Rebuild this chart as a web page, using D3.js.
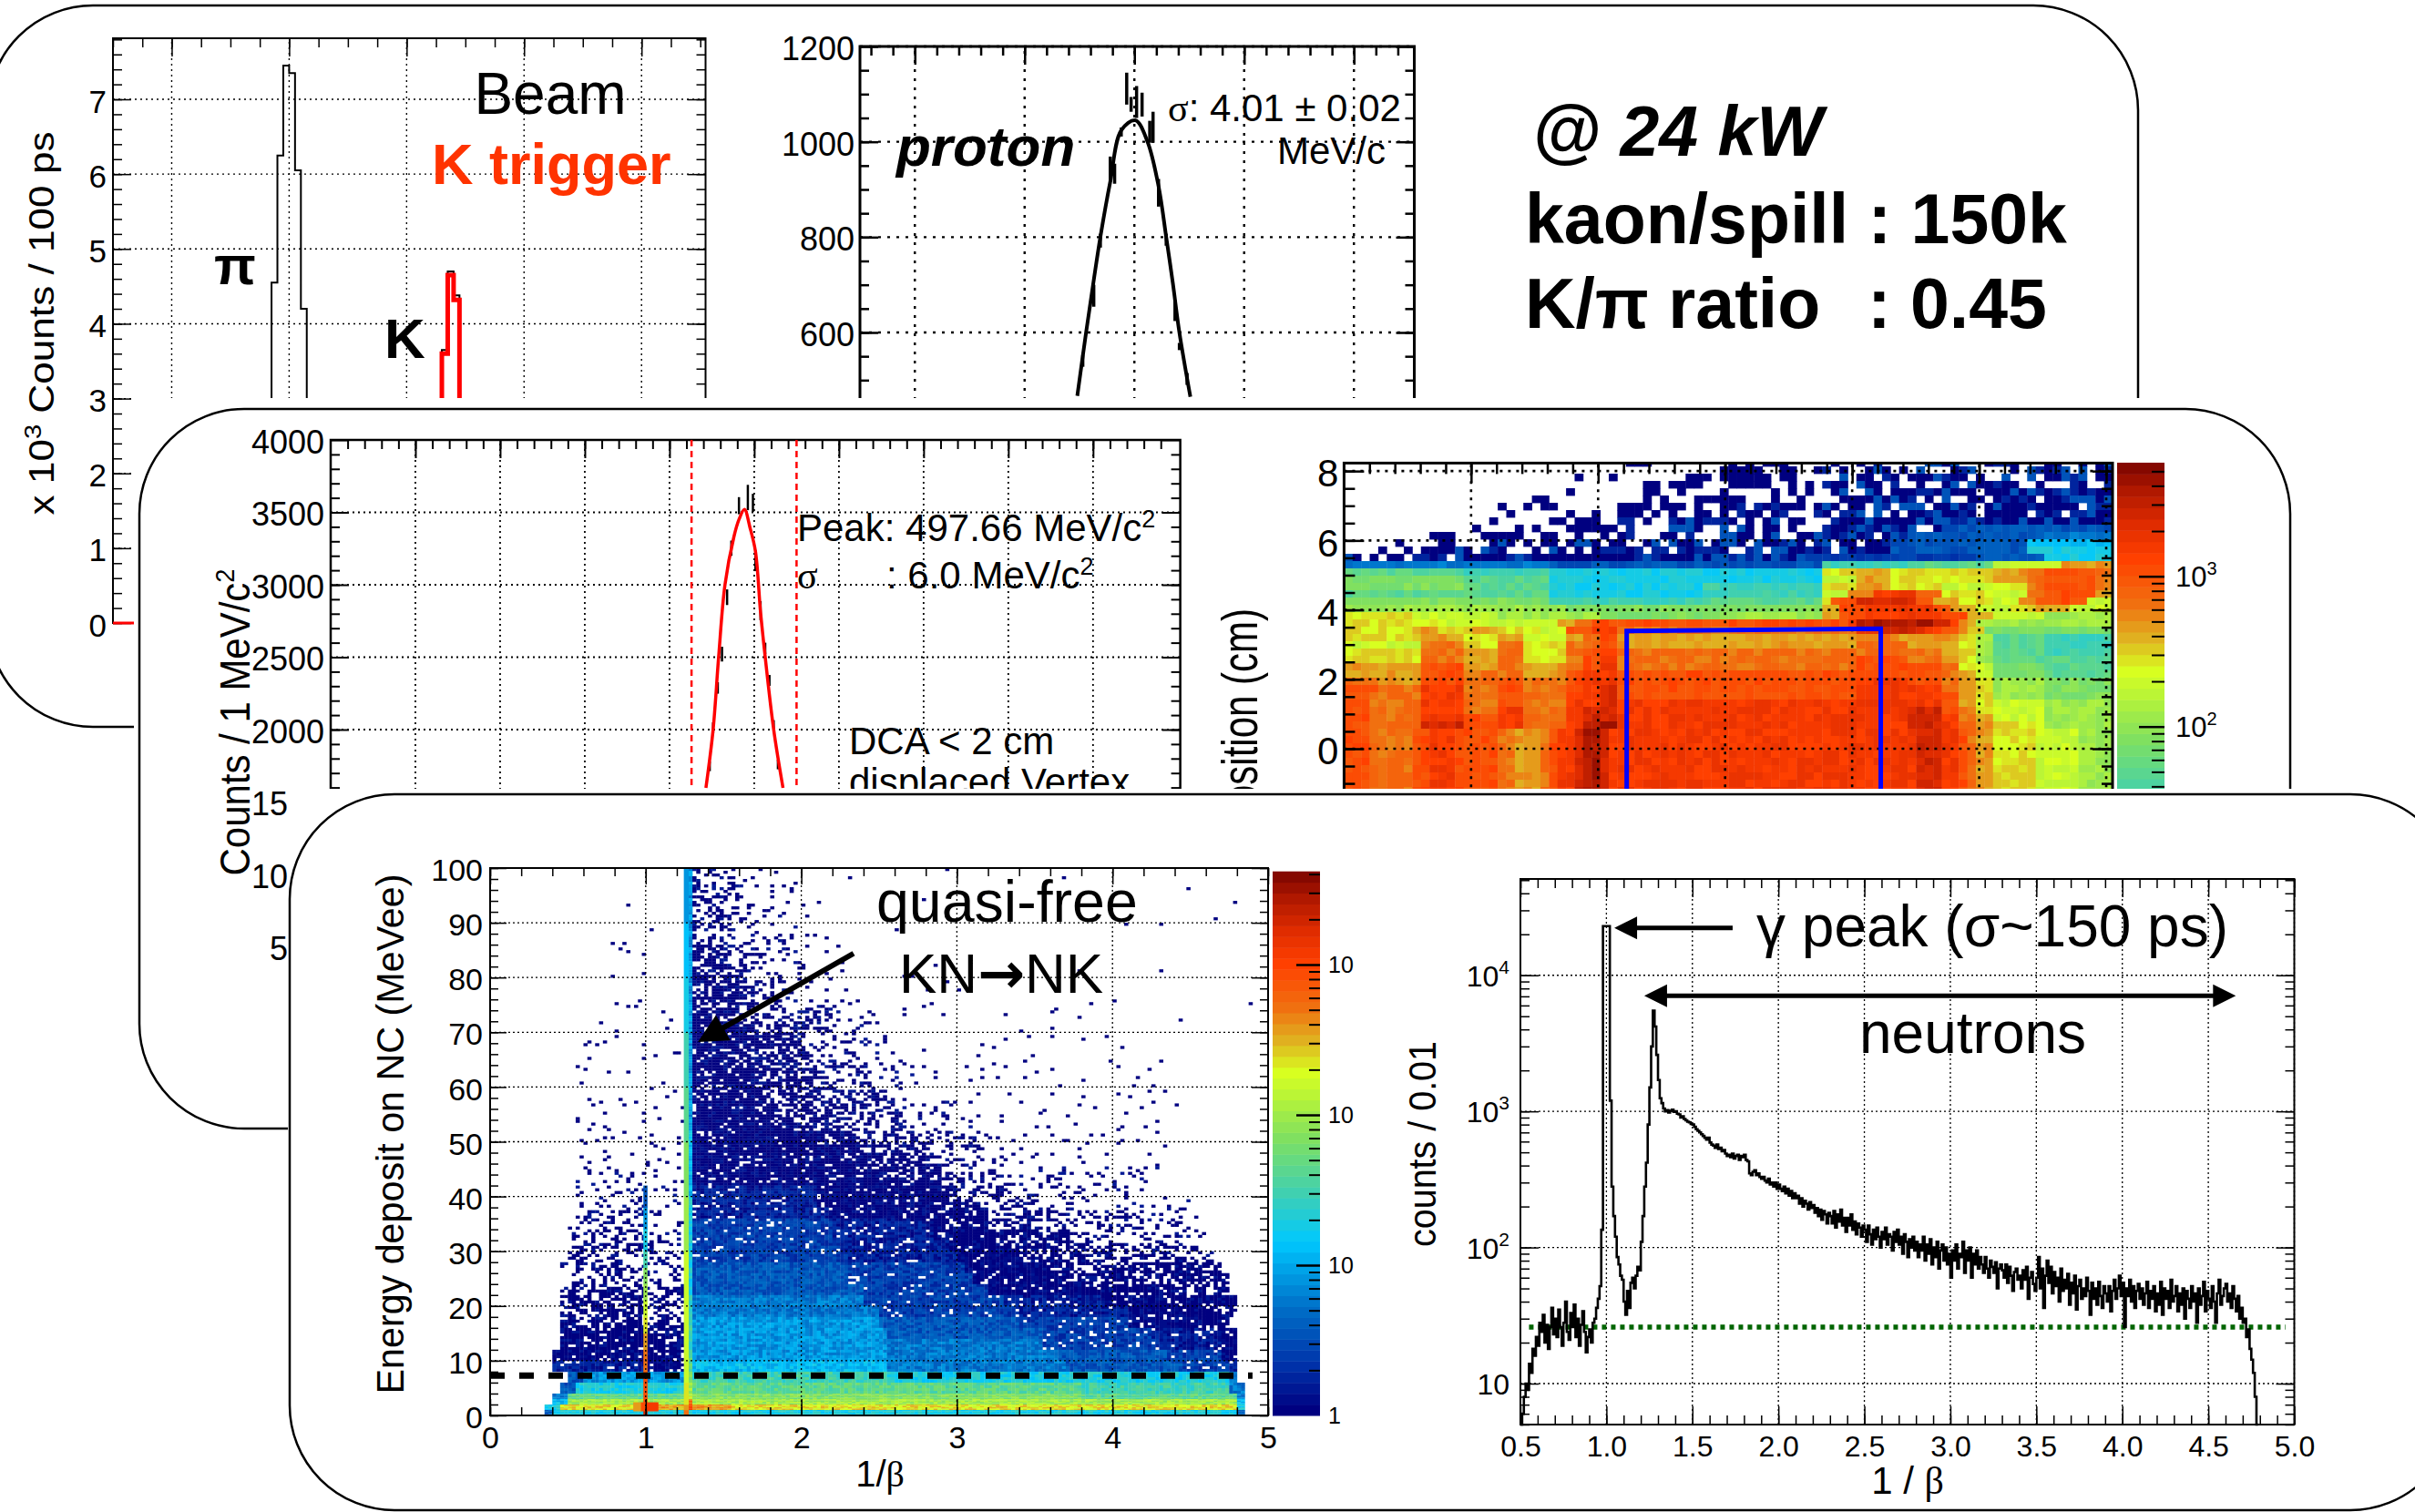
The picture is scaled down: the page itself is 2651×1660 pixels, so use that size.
<!DOCTYPE html>
<html>
<head>
<meta charset="utf-8">
<script src="https://cdn.jsdelivr.net/npm/d3@7"></script>
<style>
	html, body { margin: 0; background: #fff; }
	svg { display: block; font-family: "Liberation Sans", Arial, sans-serif; }
</style>
</head>
<body>
<div id="chart"></div>
<script>
	// palette stops, same rainbow for both colour maps
	var paletteStops = [0, 0.08, 0.19, 0.31, 0.4, 0.5, 0.62, 0.68, 0.74, 0.82, 0.88, 0.94, 1];
	var paletteColors = ["#000080", "#0030a8", "#0070c8", "#00c8ff", "#40d0b0", "#80e060", "#d8ff20", "#e0b020", "#f07010", "#ff4000", "#e02c00", "#b01800", "#700000"];

	// beam TOF, 100 ps bins
	var piBins = [23.6, 23.7, 23.8, 23.9, 24.0, 24.1, 24.2, 24.3, 24.4];
	var piCounts = [2.4, 4.55, 6.25, 7.45, 7.35, 6.05, 4.2, 2.5];
	var kBins = [26.5, 26.6, 26.7, 26.8, 26.9, 27.0];
	var kCounts = [2.0, 3.65, 4.7, 4.38, 2.0];
	var kTrigCounts = [2.0, 3.6, 4.65, 4.32, 2.0];

	// proton peak
	var protonFitX = [934.8, 935.6, 936.3, 936.9, 937.8, 938.8, 940.1, 941.2, 942.2, 942.9, 943.5, 944.1, 945.1];
	var protonFitY = [467, 600, 710, 800, 916, 1024, 1045, 1000, 907, 800, 704, 600, 465];
	var protonX = [935.3, 936.3, 936.9, 937.8, 938.2, 938.8, 939.3, 939.7, 940.2, 940.7, 941.4, 941.7, 942.2, 942.9, 943.7, 944.1, 944.8];
	var protonLow = [528, 654, 778, 916, 912, 1011, 1078, 1063, 1050, 1053, 998, 998, 864, 782, 624, 563, 490];
	var protonHigh = [553, 700, 807, 969, 954, 1030, 1145, 1094, 1117, 1103, 1044, 1063, 922, 807, 668, 578, 515];

	// K0 peak
	var kaonFitX = [488.6, 490.3, 491.6, 493.1, 495.2, 496.4, 497.7, 499, 500.3, 501.5, 502.6, 504.6, 506.8];
	var kaonFitY = [1597, 2000, 2500, 3000, 3330, 3450, 3520, 3395, 3230, 2810, 2500, 2000, 1597];
	var kaonX = [489.5, 490.3, 491.4, 492.4, 493.6, 494.6, 496.4, 498.5, 499.7, 500.3, 501.5, 502.6, 503.6, 504.6, 505.6];
	var kaonLow = [1713, 1975, 2248, 2470, 2860, 3200, 3487, 3515, 3503, 3094, 2755, 2522, 2302, 2000, 1726];
	var kaonHigh = [1780, 2050, 2327, 2572, 2968, 3305, 3605, 3690, 3628, 3240, 2887, 2600, 2377, 2065, 1792];
	var kaonCuts = [485.2, 510];

	// target image, rows top to bottom, run-length coded colour levels
	var bottomRow = "3Q5P1Q1Q3R1Q4Q2P1O2O1P1Q2R1S2T1S2R29R3R2R3S2R1Q1P2O2N3N5M4L";
	var targetRows = [
		"33.7v12w8w10a10b10c", "28.6u12v10w10a12b12c", "26.8u10v12w10a12b12c", "26.8u10v12w10a10c14d",
		"24.8u10w12w12a10c14d", "18.6u10v12w10a14c20d", "15.7u10v12w12a14c20d", "15.8v10w12w11a14c20d",
		"14.8v10w12a12b14d20e", "13.9v10w12a12b14d20D", "9.11w10w10a12b14d16D8E", "5.11w10a10a14b14c16D10G",
		"2.10w10a12b14c16d16D10H", "12c12d14e16e20C8D8H", "24E16D16D10I10J8M6O",
		"14J10I10H10H12H4N4O12N4O2P6Q2P", "14K10J10H10H12H4M4O12N4O2P6Q2P", "14K10J8H10H14I4N4O6N6M4N2P6Q2P",
		"14J10J8H10H14I3M3P5R3P5N5M2P6Q2O", "14K10K8I10I14J1N3Q7S2Q3O4N3M2P6Q3M", "16L10L10K10K10K2O3Q8R2Q3O4M3N4O5M",
		"8N10M12L14K12L2O3Q9R3Q3O6M8L", "12N13M2O2P30Q1R9T2S1R1P1O16L", "8N3O4N3O5N3M3Q3R28P3R5S2R2Q1P2N15K",
		"9N5O4N3O5M2O2P2Q28O5P5O2O2N2L6J8I", "9M5P4N3P5N2P2P2Q28O6P4O2O2N2L6J8I", "9N5P4O3P5N2P2Q2R28P6P4P2O2N2L6J8I",
		"9N5P4O3P5N2P2Q2R28P6Q4P2O2N2L6J8J", "9O5Q4O3P5O2P2Q2R28P6Q4Q2P2N2M6K8J", "9O5Q4P3P5O2Q2R2R28Q6Q4Q2P2O2M6K8J",
		"4P5O5Q4P3Q5P2Q2R2R28Q6R4Q2P2O2N6L8K", "4Q5P5R4P3Q5P2Q2R2S28Q6R4R2P2O2N6L8K", "3Q6P5R4P3Q5P2R2R2S28Q6R4R2Q2O2N6L8K",
		"3Q6P5R4P3Q5P2R2R2S28R6R4R2Q2O2N6M8L", "3Q6P5R4P3R5P2R2S2S28R6R4S2Q2P2N6M8L", "3Q6P5R4Q3R5P2R2S2S28R6R4S2R2P2O6M8L",
		"3Q6P5S4Q3R5P2R2S2T28R6R4S2R2P2O6N8L",
		bottomRow, bottomRow, bottomRow, bottomRow, bottomRow, bottomRow, bottomRow, bottomRow, bottomRow
	];
	var targetBox = [[-1.55, -3], [-1.55, 3.39], [2.45, 3.46], [2.45, -3]];

	// energy vs 1/beta, rows top to bottom, 0.05 wide columns
	var energyEdges = d3.range(100, 3, -2).concat([3, 2, 1, 0]);
	var energyRows = [
		"18.2v5.1F3c4b3a4w60t", "18.2v5.1F4c4b4a2w60t", "16.4u5.1F4c4b4a2w60t", "15.5u5t1F4c4b4a3w59t",
		"15.5v5t1F4c4b5a3v58t", "14.6u5t1F4c5b5a3v57t", "14.6v5t1F5c5b5a3w56t", "14.6v5t1F5d5b5a4w55t",
		"14.6v5t1F5d5c5a5w54t", "14.6v5t1F5d5c6a4w14u40t", "13.7v5t1F6d6c5a4w14u39t", "13.7u5t1F6d6c6a4w14u38t",
		"12.8v5t1F6d6c6b5w15u36t", "12.8v5u1F6d7c6b5a40u10.", "12.8v5u1F7e7d5b5a37u13.", "12.8v5u1F7e7d6b5a36u13.",
		"12.8v5u1F7e8d6b5a34u14.", "12.8v5v1F8e7d7b6a33u13.", "11.9v5v1F8e8d7c6a31v14.", "11.9v5v1F8e8d7c7a30v14.",
		"11.9v5v1F9e8d8c8w31v10.", "11.9w5v1F9e9d8c8a29v11.", "11.9v5v1F10e9d8c8a27v12.", "11.9w5v1F10A10d8c8a27v11.",
		"11.9w5w1G11A10e8c8b24w13.", "11.9w5w1G12A10e8d8b23w13.", "11.9w5w1G13A10e8d8b22w13.", "11.9a5w1G14A10e8d8b20a14.",
		"11.9a5w1G15A10A8d8c18a15.", "11.9a5a1G16B10A8e8c17a15.", "11.9b5a1H16B10A10e8c21a9.", "11.9b5a1H18B12A8e8c19b9.",
		"10.10b5a1H18C12B8e9c17b10.", "10.10c5b1H18C13B8e10d17b8.", "10.10c5b1H19C14B8e10d14c9.", "10.10c5b1H20C14B9A10d14c7.",
		"9.11c5b1H20D15C10A10d13d6.", "9.11c5b1H20D16C11A14d8d5.", "9.11d5c1H22D16C12A12e7d5.", "9.11d5c1I22E18C13B8A9e4.",
		"9.11d5c1I24E18C14B9A3e2d4.", "9.11d5d1I24F18D14C9A4e5.", "9.11e5d1I25F20D14C8B3A4.", "9.11e5e1I25F20E15C8B2A4.",
		"8.12A5e1J25F22E14D7C2A4.", "8.12B5A1J25G23E15D6C1B4.", "10.2D8F5F1K25I25H19H1E4.", "9.2D9H5H1L25J25J19I2E3.",
		"8.2E10J5J1M25K25K20J1E3.", "8.2G10L5L1P25L25L20L1G3.", "7.2H11N5O1Q5O20N25N20N1H3.", "7.1D12H5H1I25H25H20H1D3."
	];
	var gammaEdges = [0, 1, 2, 4, 8, 12, 15, 18, 21, 24, 27, 30, 34, 38, 42];
	var gammaLevels = ["S", "R", "Q", "Q", "P", "O", "N", "M", "L", "K", "I", "H", "F", "D"];
	var neutronEdges = [0, 1, 2, 6, 10, 20, 30, 40, 50, 60, 70, 80, 90, 100];
	var neutronLevels = ["P", "O", "N", "M", "M", "M", "L", "K", "J", "I", "H", "G", "F"];
	var blobX = [0.92, 0.97, 1.0, 1.08];
	var blobLevels = ["O", "Q", "R"];
	var cutEnergy = 7.3;

	// counts / 0.01 from 1/beta = 0.50 to 4.79
	var betaCounts = [
		5, 6, 8, 10, 9, 14, 12, 18, 16, 22, 19, 28, 24, 32, 20, 27, 18, 26, 36, 23,
		30, 22, 35, 26, 19, 28, 40, 24, 21, 33, 26, 38, 22, 30, 19, 27, 34, 24, 17, 22,
		25, 20, 28, 30, 36, 42, 52, 135, 23000, 23000, 23000, 23000, 1200, 280, 170, 120, 85, 75, 62, 58,
		40, 32, 48, 36, 55, 60, 50, 62, 72, 68, 110, 170, 280, 420, 800, 1500, 3000, 5500, 4200, 2600,
		1700, 1250, 1150, 1050, 1000, 1020, 980, 1010, 1030, 990, 1000, 960, 950, 900, 920, 880, 860, 840, 830, 810,
		800, 770, 740, 720, 700, 680, 660, 640, 620, 640, 590, 570, 560, 540, 570, 530, 540, 510, 520, 490,
		470, 480, 460, 490, 450, 470, 480, 440, 470, 460, 480, 440, 430, 350, 340, 360, 370, 340, 350, 330,
		320, 330, 310, 300, 320, 290, 300, 280, 300, 270, 290, 270, 260, 280, 250, 270, 240, 260, 230, 250,
		230, 240, 210, 230, 200, 220, 210, 190, 215, 195, 205, 180, 195, 170, 190, 160, 185, 175, 150, 180,
		170, 150, 185, 140, 175, 155, 190, 145, 165, 130, 165, 145, 175, 135, 155, 125, 150, 140, 120, 145,
		135, 110, 145, 125, 105, 135, 115, 140, 120, 100, 130, 115, 140, 105, 125, 120, 95, 130, 110, 135,
		105, 120, 90, 125, 110, 85, 115, 100, 120, 95, 110, 85, 105, 95, 120, 80, 105, 90, 115, 75,
		100, 85, 110, 70, 95, 105, 80, 100, 75, 90, 60, 95, 80, 105, 70, 90, 85, 110, 65, 95,
		80, 100, 60, 90, 75, 95, 70, 85, 75, 65, 85, 70, 60, 80, 72, 65, 78, 50, 70, 75,
		68, 60, 75, 55, 72, 62, 48, 66, 70, 58, 62, 50, 68, 58, 72, 42, 60, 66, 54, 48,
		60, 85, 50, 70, 36, 62, 80, 55, 72, 46, 66, 52, 60, 40, 70, 48, 58, 50, 64, 38,
		55, 46, 62, 35, 52, 58, 42, 50, 44, 60, 48, 32, 55, 42, 50, 38, 56, 44, 36, 52,
		46, 40, 52, 34, 48, 58, 42, 50, 62, 44, 55, 26, 50, 44, 58, 40, 52, 36, 48, 54,
		42, 50, 38, 46, 56, 36, 48, 42, 52, 34, 46, 38, 56, 32, 50, 42, 48, 36, 58, 40,
		44, 52, 34, 46, 38, 50, 30, 48, 42, 36, 52, 40, 46, 28, 50, 38, 44, 56, 34, 48,
		42, 36, 52, 40, 28, 46, 58, 38, 44, 50, 54, 40, 46, 36, 52, 42, 34, 44, 30, 36,
		28, 30, 22, 25, 18, 15, 12, 8, 5, 5
	];
	var betaThreshold = 26;

	var svg = d3.select("#chart").append("svg").attr("width", 2651).attr("height", 1660);

	var palette = d3.scaleLinear().domain(paletteStops).range(paletteColors);
	function paletteColor(t) { return palette(Math.max(0, Math.min(0.999, Math.floor(t * 50) / 50))); }
	function levelValue(c) { return (c.charCodeAt(0) - 65) * 0.05; }

	function decode(row) {
		var out = [];
		row.replace(/(\d+)([A-Za-z.])/g, function (m, n, c) {
			for (var i = 0; i < +n; i++) out.push(c);
		});
		return out;
	}
	// fixed scatter pattern for the grain of the typed density levels
	function grain(a, b, c) {
		var h = Math.imul(a + 1, 73856093) ^ Math.imul(b + 1, 19349663) ^ Math.imul(c + 1, 83492791);
		h = Math.imul(h ^ (h >>> 13), 1274126177);
		return ((h ^ (h >>> 16)) >>> 0) % 97;
	}
	var thinning = { t: 3, u: 12, v: 24, w: 48 };
	var binsPerCell = { a: 1, b: 2, c: 3, d: 5, e: 7 };
	var jitter = [-0.04, 0.02, 0.04, -0.02, 0, 0.03, -0.03, 0.01];

	function frame(g, x, y, o) {
		var xa = x.range()[0], xb = x.range()[1], ya = y.range()[0], yb = y.range()[1];
		var gridW = o.gridWidth || 1.4, dash = o.gridDash || "2,4";
		var grid = g.append("g").attr("stroke", "#000").attr("stroke-width", gridW).attr("stroke-dasharray", dash);
		grid.selectAll(".gx").data(o.xMajor).join("line").attr("class", "gx")
			.attr("x1", x).attr("x2", x).attr("y1", ya).attr("y2", yb);
		grid.selectAll(".gy").data(o.yMajor).join("line").attr("class", "gy")
			.attr("x1", xa).attr("x2", xb).attr("y1", y).attr("y2", y);

		var tickW = o.tickWidth || 1.5, minorLen = o.minorLen || 10, majorLen = o.majorLen || 20;
		function side(fn, scale, vals, len, tx, ty) {
			var a = g.append("g").attr("transform", "translate(" + tx + "," + ty + ")")
				.call(fn(scale).tickValues(vals).tickSize(-len).tickSizeOuter(0).tickFormat(""));
			a.select(".domain").remove();
			a.selectAll("line").attr("stroke-width", tickW);
		}
		[[o.yMinor, minorLen], [o.yMajor, majorLen]].forEach(function (d) {
			side(d3.axisLeft, y, d[0], d[1], xa, 0);
			side(d3.axisRight, y, d[0], d[1], xb, 0);
		});
		[[o.xMinor, minorLen], [o.xMajor, majorLen]].forEach(function (d) {
			side(d3.axisTop, x, d[0], d[1], 0, yb);
			if (o.xLabels) side(d3.axisBottom, x, d[0], d[1], 0, ya);
		});

		var labelSize = o.labelSize || 35;
		var ly = g.append("g").attr("transform", "translate(" + xa + ",0)")
			.call(d3.axisLeft(y).tickValues(o.yLabels).tickSize(0).tickPadding(o.yPad || 7).tickFormat(o.yFormat || d3.format("d")));
		ly.select(".domain").remove();
		ly.selectAll("text").attr("font-size", labelSize).attr("font-family", "Liberation Sans").attr("fill", "#000").attr("dy", "0.4em");
		if (o.xLabels) {
			var lx = g.append("g").attr("transform", "translate(0," + ya + ")")
				.call(d3.axisBottom(x).tickValues(o.xLabels).tickSize(0).tickPadding(o.xPad || 8).tickFormat(o.xFormat || d3.format("d")));
			lx.select(".domain").remove();
			lx.selectAll("text").attr("font-size", labelSize).attr("font-family", "Liberation Sans").attr("fill", "#000");
		}
		g.append("rect").attr("x", xa).attr("y", yb).attr("width", xb - xa).attr("height", ya - yb)
			.attr("fill", "none").attr("stroke", "#000").attr("stroke-width", o.frameWidth || 2);
	}

	function label(g, x, y, str, size, o) {
		o = o || {};
		return g.append("text").attr("x", x).attr("y", y).attr("font-size", size)
			.attr("font-weight", o.weight || null).attr("font-style", o.style || null)
			.attr("text-anchor", o.anchor || "start").attr("fill", o.fill || "#000").text(str);
	}
	function vlabel(g, x, y, size, len) {
		return g.append("text").attr("transform", "translate(" + x + "," + y + ") rotate(-90)")
			.attr("font-size", size).attr("text-anchor", "middle").attr("textLength", len).attr("lengthAdjust", "spacingAndGlyphs");
	}
	function arrowHead(g, x1, y1, x2, y2, size) {
		var a = Math.atan2(y2 - y1, x2 - x1), s = size, w = size * 0.5;
		var bx = x2 - s * Math.cos(a), by = y2 - s * Math.sin(a);
		g.append("path").attr("fill", "#000").attr("d", d3.line()([[x2, y2],
			[bx - w * Math.sin(a), by + w * Math.cos(a)], [bx + w * Math.sin(a), by - w * Math.cos(a)]]) + "Z");
	}
	function arrowLine(g, x1, y1, x2, y2, width) {
		g.append("line").attr("x1", x1).attr("y1", y1).attr("x2", x2).attr("y2", y2)
			.attr("stroke", "#000").attr("stroke-width", width);
	}
	function histPath(bins, counts, y, x) {
		return d3.line().curve(d3.curveStepAfter)
			.x(function (d) { return x(d[0]); }).y(function (d) { return y(d[1]); })(
				bins.map(function (b, i) { return [b, i < counts.length ? counts[i] : counts[counts.length - 1]]; }));
	}
	function colorBar(g, y, maxDecade, xa, xb, longLen, shortLen) {
		var steps = d3.range(50);
		g.selectAll(".cb").data(steps).join("rect").attr("class", "cb")
			.attr("x", xa).attr("width", xb - xa)
			.attr("y", function (d) { return y(Math.pow(10, (d + 1) / 50 * maxDecade)); })
			.attr("height", function (d) { return y(Math.pow(10, d / 50 * maxDecade)) - y(Math.pow(10, (d + 1) / 50 * maxDecade)) + 0.5; })
			.attr("fill", function (d) { return paletteColor((d + 0.5) / 50); });
		var minors = [];
		d3.range(0, Math.ceil(maxDecade)).forEach(function (e) {
			[2, 3, 4, 5, 6, 7, 8, 9].forEach(function (m) {
				var v = m * Math.pow(10, e);
				if (Math.log10(v) < maxDecade) minors.push(v);
			});
		});
		var a = g.append("g").attr("transform", "translate(" + xb + ",0)")
			.call(d3.axisLeft(y).tickValues(minors).tickSize(shortLen).tickSizeOuter(0).tickFormat(""));
		a.select(".domain").remove();
		a.selectAll("line").attr("stroke-width", 2);
		var b = g.append("g").attr("transform", "translate(" + xb + ",0)")
			.call(d3.axisLeft(y).tickValues([10, 100, 1000]).tickSize(longLen).tickSizeOuter(0).tickFormat(""));
		b.select(".domain").remove();
		b.selectAll("line").attr("stroke-width", 2.5);
	}

	/* ---------- panel A ---------- */
	var panelA = svg.append("g");
	panelA.append("rect").attr("x", -13).attr("y", 6).attr("width", 2360).attr("height", 792).attr("rx", 115)
		.attr("fill", "#fff").attr("stroke", "#000").attr("stroke-width", 2.5);

	var beamX = d3.scaleLinear().domain([21, 31.09]).range([124, 774.5]);
	var beamY = d3.scaleLinear().domain([0, 7.816]).range([684, 42]);
	var beam = panelA.append("g");
	frame(beam, beamX, beamY, {
		xMajor: [22, 24, 26, 28, 30], xMinor: d3.range(21, 31.01, 0.5),
		yMajor: d3.range(0, 8), yMinor: d3.range(0, 7.81, 0.2), yLabels: d3.range(0, 8), yPad: 7
	});
	beam.append("path").attr("fill", "none").attr("stroke", "#000").attr("stroke-width", 2).attr("d", histPath(piBins, piCounts, beamY, beamX));
	beam.append("path").attr("fill", "none").attr("stroke", "#000").attr("stroke-width", 2).attr("d", histPath(kBins, kCounts, beamY, beamX));
	beam.append("path").attr("fill", "none").attr("stroke", "#f00").attr("stroke-width", 5).attr("d", histPath(kBins, kTrigCounts, beamY, beamX));
	beam.append("line").attr("x1", beamX(21)).attr("x2", beamX(22)).attr("y1", beamY(0)).attr("y2", beamY(0)).attr("stroke", "#f00").attr("stroke-width", 3);
	var t = vlabel(panelA, 59, 355, 38, 421);
	t.append("tspan").text("x 10");
	t.append("tspan").attr("font-size", 25).attr("dy", -14).text("3");
	t.append("tspan").attr("dy", 14).text(" Counts / 100 ps");
	label(panelA, 604, 125, "Beam", 64, { anchor: "middle" });
	label(panelA, 474, 202, "K trigger", 63, { weight: "bold", fill: "#ff3300" });
	label(panelA, 235, 312, "π", 60, { weight: "bold" });
	label(panelA, 422, 393, "K", 62, { weight: "bold" });

	var protonScaleX = d3.scaleLinear().domain([915, 965.5]).range([944, 1552.5]);
	var protonScaleY = d3.scaleLinear().domain([0, 1200]).range([679, 51]);
	var proton = panelA.append("g");
	frame(proton, protonScaleX, protonScaleY, {
		xMajor: [920, 930, 940, 950, 960], xMinor: d3.range(916, 965, 2),
		yMajor: d3.range(200, 1201, 200), yMinor: d3.range(50, 1200, 50), yLabels: d3.range(200, 1201, 200),
		gridWidth: 2.4, gridDash: "3,7", tickWidth: 2.5, frameWidth: 3, yPad: 6, labelSize: 36
	});
	proton.append("path").attr("fill", "none").attr("stroke", "#000").attr("stroke-width", 4)
		.attr("d", d3.line().curve(d3.curveCatmullRom)
			.x(function (d, i) { return protonScaleX(d); }).y(function (d, i) { return protonScaleY(protonFitY[i]); })(protonFitX));
	proton.selectAll(".err").data(protonX).join("line").attr("class", "err")
		.attr("x1", protonScaleX).attr("x2", protonScaleX)
		.attr("y1", function (d, i) { return protonScaleY(protonLow[i]); })
		.attr("y2", function (d, i) { return protonScaleY(protonHigh[i]); })
		.attr("stroke", "#000").attr("stroke-width", 3.5);
	label(panelA, 984, 182, "proton", 62, { weight: "bold", style: "italic" });
	var s1 = label(panelA, 1282, 133, "", 42);
	s1.append("tspan").attr("font-family", "Liberation Serif").text("σ");
	s1.append("tspan").text(": 4.01 ± 0.02");
	label(panelA, 1402, 180, "MeV/c", 42);

	label(panelA, 1682, 171, "@ 24 kW", 77, { weight: "bold", style: "italic" });
	label(panelA, 1674, 267, "kaon/spill : 150k", 77, { weight: "bold" });
	label(panelA, 1674, 360, "K/π ratio", 77, { weight: "bold" });
	label(panelA, 2050, 360, ": 0.45", 77, { weight: "bold" });

	/* ---------- panel B ---------- */
	var panelB = svg.append("g");
	panelB.append("rect").attr("x", 147).attr("y", 437).attr("width", 2504).attr("height", 1223).attr("fill", "#fff");
	panelB.append("rect").attr("x", 153).attr("y", 449).attr("width", 2361).attr("height", 790).attr("rx", 115)
		.attr("fill", "#fff").attr("stroke", "#000").attr("stroke-width", 2.5);

	var kaonScaleX = d3.scaleLinear().domain([400, 600.6]).range([363, 1295.6]);
	var kaonScaleY = d3.scaleLinear().domain([0, 4000]).range([1119, 483]);
	var kaon = panelB.append("g");
	frame(kaon, kaonScaleX, kaonScaleY, {
		xMajor: d3.range(420, 600, 20), xMinor: d3.range(404, 600, 4),
		yMajor: d3.range(500, 4001, 500), yMinor: d3.range(100, 4000, 100), yLabels: d3.range(0, 4001, 500),
		gridWidth: 1.8, gridDash: "2,4", tickWidth: 2, frameWidth: 2.5, yPad: 7, labelSize: 36
	});
	kaon.selectAll(".cut").data(kaonCuts).join("line").attr("class", "cut")
		.attr("x1", kaonScaleX).attr("x2", kaonScaleX).attr("y1", kaonScaleY(4000)).attr("y2", kaonScaleY(0))
		.attr("stroke", "#f00").attr("stroke-width", 2.5).attr("stroke-dasharray", "7,5");
	kaon.selectAll(".err").data(kaonX).join("line").attr("class", "err")
		.attr("x1", kaonScaleX).attr("x2", kaonScaleX)
		.attr("y1", function (d, i) { return kaonScaleY(kaonLow[i]); })
		.attr("y2", function (d, i) { return kaonScaleY(kaonHigh[i]); })
		.attr("stroke", "#000").attr("stroke-width", 2.5);
	kaon.append("path").attr("fill", "none").attr("stroke", "#f00").attr("stroke-width", 3.5)
		.attr("d", d3.line().curve(d3.curveCatmullRom)
			.x(function (d) { return kaonScaleX(d); }).y(function (d, i) { return kaonScaleY(kaonFitY[i]); })(kaonFitX));
	var t2 = vlabel(panelB, 274, 793, 46, 337);
	t2.append("tspan").text("Counts / 1 MeV/c");
	t2.append("tspan").attr("font-size", 30).attr("dy", -17).text("2");
	var p1 = label(panelB, 875, 594, "Peak: 497.66 MeV/c", 42);
	p1.append("tspan").attr("font-size", 27).attr("dy", -15).text("2");
	label(panelB, 875, 646, "", 42).attr("font-family", "Liberation Serif").text("σ");
	var p2 = label(panelB, 973, 646, ": 6.0 MeV/c", 42);
	p2.append("tspan").attr("font-size", 27).attr("dy", -15).text("2");
	label(panelB, 932, 828, "DCA < 2 cm", 42);
	label(panelB, 932, 873, "displaced Vertex", 42);

	var targetX = d3.scaleLinear().domain([-6, 6.1]).range([1475.4, 2319]);
	var targetY = d3.scaleLinear().domain([-3, 8.23]).range([936.3, 508.4]);
	var targetColX = d3.scaleLinear().domain([0, 90]).range([1475.4, 2319]);
	var targetRowY = d3.scaleLinear().domain([0, 46]).range([504, 872]);
	var target = panelB.append("g");
	svg.append("clipPath").attr("id", "targetClip").append("rect")
		.attr("x", 1475.4).attr("y", 508.4).attr("width", 843.6).attr("height", 428);
	var targetCells = [];
	targetRows.forEach(function (row, r) {
		decode(row).forEach(function (c, k) {
			if (c === ".") return;
			var h = grain(r, k, 7), t = -1;
			if (thinning[c] !== undefined) { if (h < thinning[c]) t = 0; }
			else if (binsPerCell[c] !== undefined) { if (h < 97 * (0.5 + binsPerCell[c] * 0.07)) t = h % 5 === 0 ? 0.14 : (h % 3 === 0 ? 0.07 : 0); }
			else t = levelValue(c) + jitter[h % 8] * 0.5;
			if (t >= 0) targetCells.push({ r: r, c: k, t: t });
		});
	});
	target.append("g").attr("clip-path", "url(#targetClip)")
		.selectAll(".cell").data(targetCells).join("rect").attr("class", "cell")
		.attr("x", function (d) { return targetColX(d.c); })
		.attr("y", function (d) { return targetRowY(d.r); })
		.attr("width", targetColX(1) - targetColX(0) + 0.4)
		.attr("height", targetRowY(1) - targetRowY(0) + 0.4)
		.attr("fill", function (d) { return paletteColor(d.t); });
	frame(target, targetX, targetY, {
		xMajor: [-4, -2, 0, 2, 4, 6], xMinor: d3.range(-5.6, 6.1, 0.4),
		yMajor: [-2, 0, 2, 4, 6, 8], yMinor: d3.range(-3, 8.2, 0.5), yLabels: [-2, 0, 2, 4, 6, 8],
		gridWidth: 2.6, gridDash: "3,6", tickWidth: 2.5, frameWidth: 3, yPad: 6, labelSize: 42, minorLen: 12, majorLen: 22
	});
	target.append("path").attr("fill", "none").attr("stroke", "#0000ff").attr("stroke-width", 5)
		.attr("d", d3.line().x(function (d) { return targetX(d[0]); }).y(function (d) { return targetY(d[1]); })(targetBox));
	label(panelB, 0, 0, "Position (cm)", 56, { anchor: "end" }).attr("transform", "translate(1380,668) rotate(-90)")
		.attr("textLength", 245).attr("lengthAdjust", "spacingAndGlyphs");
	var targetBarY = d3.scaleLog().domain([1, 1000]).range([1127.7, 632.7]);
	colorBar(target, targetBarY, 3.756, 2324, 2376, 28, 14);
	[[100, "2"], [1000, "3"]].forEach(function (d) {
		var c = label(panelB, 2388, targetBarY(d[0]) + 11, "10", 31);
		c.append("tspan").attr("font-size", 20).attr("dy", -13).text(d[1]);
	});

	/* ---------- panel C ---------- */
	var panelC = svg.append("g");
	panelC.append("rect").attr("x", 316).attr("y", 866).attr("width", 2335).attr("height", 794).attr("fill", "#fff");
	panelC.append("rect").attr("x", 318).attr("y", 872).attr("width", 2377).attr("height", 786).attr("rx", 115)
		.attr("fill", "#fff").attr("stroke", "#000").attr("stroke-width", 2.5);

	var energyX = d3.scaleLinear().domain([0, 5]).range([538, 1392]);
	var energyY = d3.scaleLinear().domain([0, 100]).range([1554, 953]);
	var energy = panelC.append("g");
	var energyBins = [];
	energyRows.forEach(function (row, r) {
		var top = energyEdges[r], bot = energyEdges[r + 1];
		decode(row).forEach(function (c, k) {
			if (c === ".") return;
			var x0 = k * 0.05;
			function bin(sub, t) {
				var sx = sub % 2, sy = (sub - sx) / 2;
				energyBins.push({ x: x0 + sx * 0.025, top: top - sy * (top - bot) / 4, bot: top - (sy + 1) * (top - bot) / 4, t: t });
			}
			if (thinning[c] !== undefined) {
				var h = grain(r, k, 99);
				if (h < thinning[c]) bin(grain(k, r, 5) % 8, 0);
			} else if (binsPerCell[c] !== undefined) {
				d3.range(8).forEach(function (s) {
					var g2 = grain(r, k, s);
					if (g2 < 97 * binsPerCell[c] / 8) bin(s, g2 % 6 === 0 ? 0.05 : 0);
				});
			} else {
				d3.range(8).forEach(function (s) {
					var g2 = grain(r, k, s + 20), lv = levelValue(c);
					if (lv <= 0.1 && g2 % 12 === 0) return;
					bin(s, Math.max(0, lv + jitter[g2 % 8]));
				});
			}
		});
	});
	gammaLevels.forEach(function (c, i) {
		energyBins.push({ x: 0.985, w: 0.025, top: gammaEdges[i + 1], bot: gammaEdges[i], t: levelValue(c) });
	});
	neutronLevels.forEach(function (c, i) {
		energyBins.push({ x: 1.245, w: 0.03, top: neutronEdges[i + 1], bot: neutronEdges[i], t: levelValue(c) });
	});
	blobLevels.forEach(function (c, i) {
		energyBins.push({ x: blobX[i], w: blobX[i + 1] - blobX[i], top: 2.4, bot: 0.8, t: levelValue(c) });
	});
	energy.selectAll(".bin").data(energyBins).join("rect").attr("class", "bin")
		.attr("x", function (d) { return energyX(d.x); })
		.attr("y", function (d) { return energyY(d.top); })
		.attr("width", function (d) { return energyX(d.w || 0.025) - energyX(0) + 0.3; })
		.attr("height", function (d) { return energyY(d.bot) - energyY(d.top) + 0.3; })
		.attr("fill", function (d) { return paletteColor(d.t); });
	frame(energy, energyX, energyY, {
		xMajor: d3.range(0, 6), xMinor: d3.range(0, 5.01, 0.2),
		yMajor: d3.range(0, 101, 10), yMinor: d3.range(0, 100.1, 2), yLabels: d3.range(0, 101, 10), xLabels: d3.range(0, 6),
		minorLen: 9, majorLen: 18, yPad: 8, xPad: 12, labelSize: 34, gridWidth: 1.3, gridDash: "2,3"
	});
	energy.append("line").attr("x1", energyX(0)).attr("x2", energyX(4.9)).attr("y1", energyY(cutEnergy)).attr("y2", energyY(cutEnergy))
		.attr("stroke", "#000").attr("stroke-width", 7).attr("stroke-dasharray", "16,16");
	vlabel(panelC, 443, 1245, 42, 571).text("Energy deposit on NC (MeVee)");
	var bl = label(panelC, 966, 1632, "1/", 40, { anchor: "middle" });
	bl.append("tspan").attr("font-family", "Liberation Serif").text("β");
	label(panelC, 962, 1012, "quasi-free", 64.5);
	var qf = label(panelC, 987, 1090, "KN", 62);
	qf.append("tspan").attr("font-family", "DejaVu Sans").attr("font-weight", "bold").text("→");
	qf.append("tspan").text("NK");
	arrowLine(energy, energyX(2.336), energyY(84.4), energyX(1.46), energyY(70.2), 6);
	arrowHead(energy, energyX(2.336), energyY(84.4), energyX(1.335), energyY(68.2), 32);

	var energyBarY = d3.scaleLog().domain([1, 1000]).range([1554, 1059]);
	colorBar(energy, energyBarY, 3.62, 1397, 1449, 26, 12);
	[[1, "1"], [10, "10"], [100, "10"], [1000, "10"]].forEach(function (d) {
		label(panelC, 1458, energyBarY(d[0]) + 9, d[1], 25);
	});

	var betaX = d3.scaleLinear().domain([0.5, 5]).range([1669, 2518.5]);
	var betaY = d3.scaleLog().domain([5, 51000]).range([1564, 965]);
	var beta = panelC.append("g");
	var logMinor = [];
	[1, 10, 100, 1000, 10000].forEach(function (e) {
		d3.range(1, 10).forEach(function (m) { if (m * e >= 5 && m * e <= 51000) logMinor.push(m * e); });
	});
	frame(beta, betaX, betaY, {
		xMajor: d3.range(0.5, 5.01, 0.5), xMinor: d3.range(0.5, 5.01, 0.1), xLabels: d3.range(0.5, 5.01, 0.5), xFormat: d3.format(".1f"),
		yMajor: [10, 100, 1000, 10000], yMinor: logMinor, yLabels: [10, 100, 1000, 10000], yFormat: function () { return ""; },
		minorLen: 10, majorLen: 20, xPad: 12, labelSize: 32, gridWidth: 1.3, gridDash: "2,3"
	});
	[[10, ""], [100, "2"], [1000, "3"], [10000, "4"]].forEach(function (d) {
		var c = label(panelC, 1657, betaY(d[0]) + 12, "10", 32, { anchor: "end" });
		if (d[1]) c.append("tspan").attr("font-size", 21).attr("dy", -14).text(d[1]);
	});
	beta.append("line").attr("x1", betaX(0.55)).attr("x2", betaX(4.95)).attr("y1", betaY(betaThreshold)).attr("y2", betaY(betaThreshold))
		.attr("stroke", "#006400").attr("stroke-width", 5.5).attr("stroke-dasharray", "5,5");
	beta.append("path").attr("fill", "none").attr("stroke", "#000").attr("stroke-width", 2.6)
		.attr("d", d3.line().curve(d3.curveStepAfter)
			.x(function (d, i) { return betaX(0.5 + i * 0.01); }).y(function (d) { return betaY(d); })(betaCounts));
	arrowLine(beta, betaX(1.734), betaY(22300), betaX(1.12), betaY(22300), 5);
	arrowHead(beta, betaX(1.734), betaY(22300), betaX(1.046), betaY(22300), 25);
	arrowLine(beta, betaX(1.3), betaY(7080), betaX(4.58), betaY(7080), 5);
	arrowHead(beta, betaX(4.66), betaY(7080), betaX(1.22), betaY(7080), 25);
	arrowHead(beta, betaX(1.22), betaY(7080), betaX(4.66), betaY(7080), 25);
	vlabel(panelC, 1576, 1256, 42, 226).text("counts / 0.01");
	var bx = label(panelC, 2094, 1640, "1 / ", 42, { anchor: "middle" });
	bx.append("tspan").attr("font-family", "Liberation Serif").text("β");
	label(panelC, 1928, 1039, "γ peak (σ~150 ps)", 64);
	label(panelC, 2041, 1156, "neutrons", 64);
</script>
</body>
</html>
